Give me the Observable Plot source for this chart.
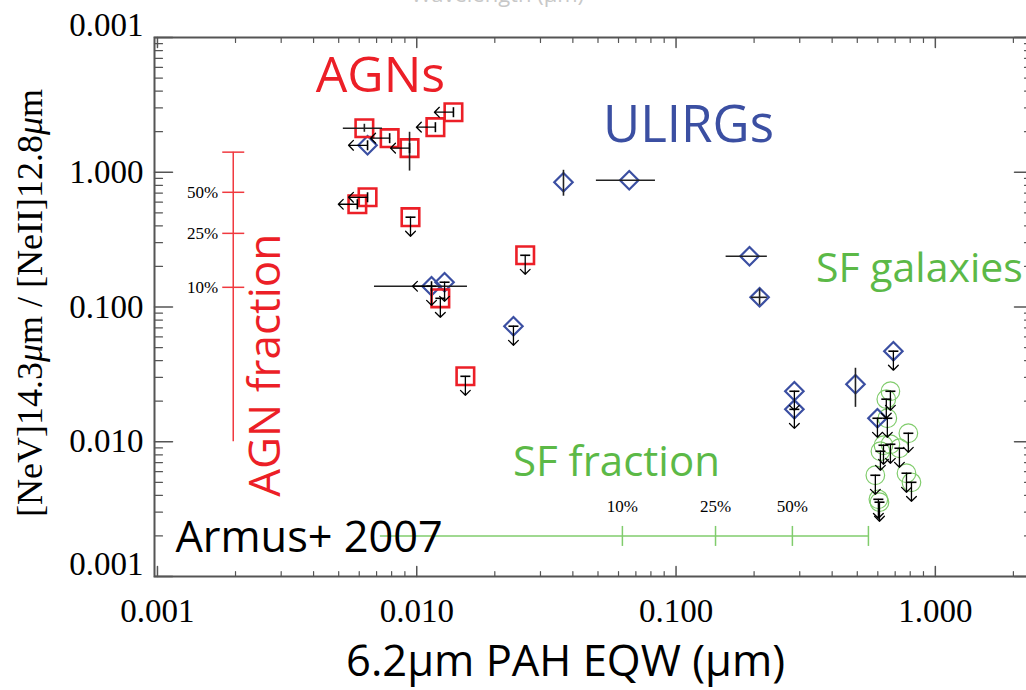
<!DOCTYPE html>
<html><head><meta charset="utf-8">
<script src="https://cdn.jsdelivr.net/npm/d3@7"></script>
<script src="https://cdn.jsdelivr.net/npm/@observablehq/plot@0.6"></script>
<style>html,body{margin:0;padding:0;background:#fff;overflow:hidden}</style>
</head><body><div id="chart"></div>
<script>
// ---------- tick labels ----------
const xTickValues = [0.001, 0.01, 0.1, 1];
const xTickLabels = ["0.001", "0.010", "0.100", "1.000"];
const yTickValues = [10, 1, 0.1, 0.01, 0.001];
const yTickLabels = ["0.001", "1.000", "0.100", "0.010", "0.001"];

// ---------- AGNs (red squares) ----------
const agnX = [0.00628, 0.00786, 0.00938, 0.0118, 0.01385, 0.00646, 0.0059, 0.00946, 0.01233, 0.0154, 0.0262];
const agnY = [2.12, 1.79, 1.51, 2.16, 2.79, 0.652, 0.579, 0.464, 0.116, 0.0306, 0.242];
const agnLimit = ["", "x", "x", "x", "x", "x", "x", "y", "y", "y", "y"];

// ---------- ULIRGs (blue diamonds) ----------
const ulirgX = [0.00646, 0.0114, 0.0128, 0.0236, 0.0368, 0.066, 0.192, 0.21, 0.689, 0.286, 0.286, 0.492, 0.598];
const ulirgY = [1.585, 0.1426, 0.1527, 0.072, 0.843, 0.872, 0.238, 0.118, 0.047, 0.0237, 0.0174, 0.0267, 0.01494];
const ulirgLimit = ["x", "xy", "y", "y", "", "", "", "", "y", "y", "y", "", "y"];

// ---------- SF galaxies (green circles, all upper limits) ----------
const sfX = [0.671, 0.647, 0.653, 0.787, 0.631, 0.671, 0.727, 0.614, 0.587, 0.774, 0.809, 0.603, 0.609];
const sfY = [0.0237, 0.0207, 0.01494, 0.01156, 0.00942, 0.00958, 0.00895, 0.0085, 0.00564, 0.00584, 0.005, 0.00374, 0.00356];

// ---------- error bars ----------
const xErrY  = [2.12, 0.1426, 0.872, 0.238, 0.118];
const xErrLo = [0.00521, 0.00687, 0.0493, 0.156, 0.195];
const xErrHi = [0.00738, 0.01569, 0.0833, 0.225, 0.225];
const yErrX  = [0.00628, 0.00938, 0.0368, 0.21, 0.492];
const yErrLo = [1.98, 1.02, 0.664, 0.103, 0.018];
const yErrHi = [2.27, 1.98, 1.034, 0.136, 0.0351];

// ---------- fraction scales ----------
const agnFracX = 0.00196;
const agnFracValues = [0.71, 0.352, 0.14];
const agnFracLabels = ["50%", "25%", "10%"];
const agnFracTop = 1.41, agnFracBottom = 0.01;
const sfFracY = 0.002;
const sfFracValues = [0.0621, 0.142, 0.281];
const sfFracLabels = ["10%", "25%", "50%"];
const sfFracEnd = 0.552, sfFracStart = 0.00724;

// ---------- colours / fonts ----------
const RED = "#ec1f27", BLUE = "#3b4fa2", GREEN = "#5cb947", GREEN_L = "#80cc6c";
const SERIF = "Liberation Serif, Times New Roman, serif";
const SANS = "Open Sans, DejaVu Sans, sans-serif";

const xDomain = [0.000974, 2.37];
const yDomain = [0.001, 10];

const agn = agnX.map((x, i) => ({x, y: agnY[i], lim: agnLimit[i]}));
const ulirg = ulirgX.map((x, i) => ({x, y: ulirgY[i], lim: ulirgLimit[i]}));
const sf = sfX.map((x, i) => ({x, y: sfY[i], lim: "y"}));
const all = [...agn, ...ulirg, ...sf];
const down = all.filter(d => d.lim.includes("y"));
const left = all.filter(d => d.lim.includes("x"));
const hErr = xErrY.map((y, i) => ({y, x1: xErrLo[i], x2: xErrHi[i]}));
const vErr = yErrX.map((x, i) => ({x, y1: yErrLo[i], y2: yErrHi[i]}));

const hbar = {draw(ctx, size) { const w = Math.sqrt(size / Math.PI); ctx.moveTo(-w, 0); ctx.lineTo(w, 0); }};
const vbar = {draw(ctx, size) { const w = Math.sqrt(size / Math.PI); ctx.moveTo(0, -w); ctx.lineTo(0, w); }};

const minorOf = (lo, hi) => {
  const out = [];
  for (let k = -4; k <= 1; k++) for (let m = 2; m <= 9; m++) { const v = m * Math.pow(10, k); if (v > lo && v < hi) out.push(v); }
  return out;
};
const xMinor = minorOf(xDomain[0], xDomain[1]);
const yMinor = minorOf(yDomain[0], yDomain[1]);
const xMajor = xTickValues;
const yMajor = yTickValues;

const AX = "#555";
const tickMarks = [
  Plot.vector(xMajor, {x: d => d, y: () => yDomain[0], length: 10, rotate: 0, anchor: "start", r: 0, stroke: AX, strokeWidth: 1.5}),
  Plot.vector(xMinor, {x: d => d, y: () => yDomain[0], length: 5, rotate: 0, anchor: "start", r: 0, stroke: AX, strokeWidth: 1.2}),
  Plot.vector(xMajor, {x: d => d, y: () => yDomain[1], length: 10, rotate: 180, anchor: "start", r: 0, stroke: AX, strokeWidth: 1.5}),
  Plot.vector(xMinor, {x: d => d, y: () => yDomain[1], length: 5, rotate: 180, anchor: "start", r: 0, stroke: AX, strokeWidth: 1.2}),
  Plot.vector(yMajor, {y: d => d, x: () => xDomain[0], length: 18, rotate: 90, anchor: "start", r: 0, stroke: AX, strokeWidth: 1.5}),
  Plot.vector(yMinor, {y: d => d, x: () => xDomain[0], length: 8, rotate: 90, anchor: "start", r: 0, stroke: AX, strokeWidth: 1.2}),
  Plot.vector(yMajor, {y: d => d, x: () => xDomain[1], length: 18, rotate: -90, anchor: "start", r: 0, stroke: AX, strokeWidth: 1.5}),
  Plot.vector(yMinor, {y: d => d, x: () => xDomain[1], length: 8, rotate: -90, anchor: "start", r: 0, stroke: AX, strokeWidth: 1.2})
];

const yMid = yTickValues.map((v, i) => ({v, t: yTickLabels[i]})).filter((d, i) => i > 0 && i < yTickValues.length - 1);
const yEnd = yTickValues.map((v, i) => ({v, t: yTickLabels[i]})).filter((d, i) => i === 0 || i === yTickValues.length - 1);

const plot = Plot.plot({
  width: 1026, height: 690,
  marginLeft: 154, marginRight: -6, marginTop: 37, marginBottom: 114,
  x: {type: "log", domain: xDomain, axis: null},
  y: {type: "log", domain: yDomain, axis: null},
  style: {background: "white"},
  marks: [
    Plot.frame({stroke: AX, strokeWidth: 2}),
    ...tickMarks,
    // x tick labels
    Plot.text(xTickValues, {x: d => d, text: (d, i) => xTickLabels[i], frameAnchor: "bottom", dy: 35, lineAnchor: "middle", fontFamily: SERIF, fontSize: 33, fill: "black"}),
    // y tick labels
    Plot.text(yMid, {y: "v", text: "t", frameAnchor: "left", dx: -11, textAnchor: "end", lineAnchor: "middle", fontFamily: SERIF, fontSize: 33, fill: "black"}),
    Plot.text(yEnd, {y: "v", text: "t", frameAnchor: "left", dx: -11, dy: -12, textAnchor: "end", lineAnchor: "middle", fontFamily: SERIF, fontSize: 33, fill: "black"}),
    // axis titles
    Plot.text(["[NeV]14.3μm / [NeII]12.8μm"], {frameAnchor: "left", dx: -124, dy: -4, rotate: -90, textAnchor: "middle", lineAnchor: "middle", fontFamily: SERIF, fontSize: 36, fill: "black"}),
    Plot.text(["6.2μm PAH EQW (μm)"], {frameAnchor: "bottom", dx: -28, dy: 99, textAnchor: "middle", lineAnchor: "bottom", fontFamily: SANS, fontSize: 43.5, fill: "black"}),
    Plot.text(["Wavelength (μm)"], {frameAnchor: "top", dx: -96, dy: -36, textAnchor: "middle", lineAnchor: "bottom", fontFamily: SANS, fontSize: 22, fill: "#c8c8c8"}),
    // AGN fraction scale
    Plot.ruleX([{x: agnFracX, y1: agnFracBottom, y2: agnFracTop}], {x: "x", y1: "y1", y2: "y2", stroke: "#f0393f", strokeWidth: 1.5}),
    Plot.dot([...agnFracValues, agnFracTop], {x: () => agnFracX, y: d => d, symbol: hbar, r: 11, stroke: "#f0393f", strokeWidth: 1.5}),
    Plot.text(agnFracValues, {x: () => agnFracX, y: d => d, text: (d, i) => agnFracLabels[i], dx: -15, textAnchor: "end", lineAnchor: "middle", fontFamily: SERIF, fontSize: 17, fill: "black"}),
    // SF fraction scale
    Plot.ruleY([{y: sfFracY, x1: sfFracStart, x2: sfFracEnd}], {y: "y", x1: "x1", x2: "x2", stroke: GREEN_L, strokeWidth: 1.5}),
    Plot.dot([...sfFracValues, sfFracEnd], {x: d => d, y: () => sfFracY, symbol: vbar, r: 10, stroke: GREEN_L, strokeWidth: 1.5}),
    Plot.text(sfFracValues, {x: d => d, y: () => sfFracY, text: (d, i) => sfFracLabels[i], dy: -29, lineAnchor: "middle", fontFamily: SERIF, fontSize: 17, fill: "black"}),
    // symbols
    Plot.dot(sf, {x: "x", y: "y", r: 9.3, stroke: GREEN_L, strokeWidth: 1.2, fill: "none"}),
    Plot.dot(ulirg, {x: "x", y: "y", symbol: "diamond2", r: 8.3, stroke: BLUE, strokeWidth: 2.2, fill: "none"}),
    Plot.dot(agn, {x: "x", y: "y", symbol: "square", r: 9.9, stroke: RED, strokeWidth: 2.6, fill: "none"}),
    // error bars
    Plot.ruleY(hErr, {y: "y", x1: "x1", x2: "x2", stroke: "#222", strokeWidth: 1.6}),
    Plot.ruleX(vErr, {x: "x", y1: "y1", y2: "y2", stroke: "#222", strokeWidth: 1.6}),
    // upper limits
    Plot.dot(down, {x: "x", y: "y", symbol: hbar, r: 5, stroke: "black", strokeWidth: 1.6}),
    Plot.vector(down, {x: "x", y: "y", length: 19, rotate: 180, anchor: "start", r: 4.5, stroke: "black", strokeWidth: 1.3}),
    Plot.dot(left, {x: "x", y: "y", symbol: vbar, r: 5, stroke: "black", strokeWidth: 1.6}),
    Plot.vector(left, {x: "x", y: "y", length: 19, rotate: -90, anchor: "start", r: 4.5, stroke: "black", strokeWidth: 1.3}),
    // annotations
    Plot.text(["AGNs"], {x: () => 0.00724, y: () => 3.925, lineAnchor: "bottom", fontFamily: SANS, fontSize: 50, fill: RED}),
    Plot.text(["ULIRGs"], {x: () => 0.1117, y: () => 1.67, lineAnchor: "bottom", fontFamily: SANS, fontSize: 51, fill: BLUE}),
    Plot.text(["SF galaxies"], {x: () => 0.868, y: () => 0.1527, lineAnchor: "bottom", fontFamily: SANS, fontSize: 41, fill: GREEN}),
    Plot.text(["SF fraction"], {x: () => 0.0589, y: () => 0.00555, lineAnchor: "bottom", fontFamily: SANS, fontSize: 42, fill: GREEN}),
    Plot.text(["AGN fraction"], {x: () => 0.00261, y: () => 0.03697, rotate: -90, lineAnchor: "middle", fontFamily: SANS, fontSize: 44, fill: RED}),
    Plot.text(["Armus+ 2007"], {x: () => 0.001173, y: () => 0.00151, textAnchor: "start", lineAnchor: "bottom", fontFamily: SANS, fontSize: 43.3, fill: "black"})
  ]
});
document.getElementById("chart").appendChild(plot);

// italic μ in the y title
const yt = Array.from(plot.querySelectorAll("text")).find(t => t.textContent.startsWith("[NeV]"));
if (yt) {
  yt.textContent = "";
  [["[NeV]14.3", false], ["μ", true], ["m / [NeII]12.8", false], ["μ", true], ["m", false]].forEach(([t, it]) => {
    const ts = document.createElementNS("http://www.w3.org/2000/svg", "tspan");
    ts.textContent = t;
    if (it) ts.setAttribute("font-style", "italic");
    yt.appendChild(ts);
  });
}
</script></body></html>
